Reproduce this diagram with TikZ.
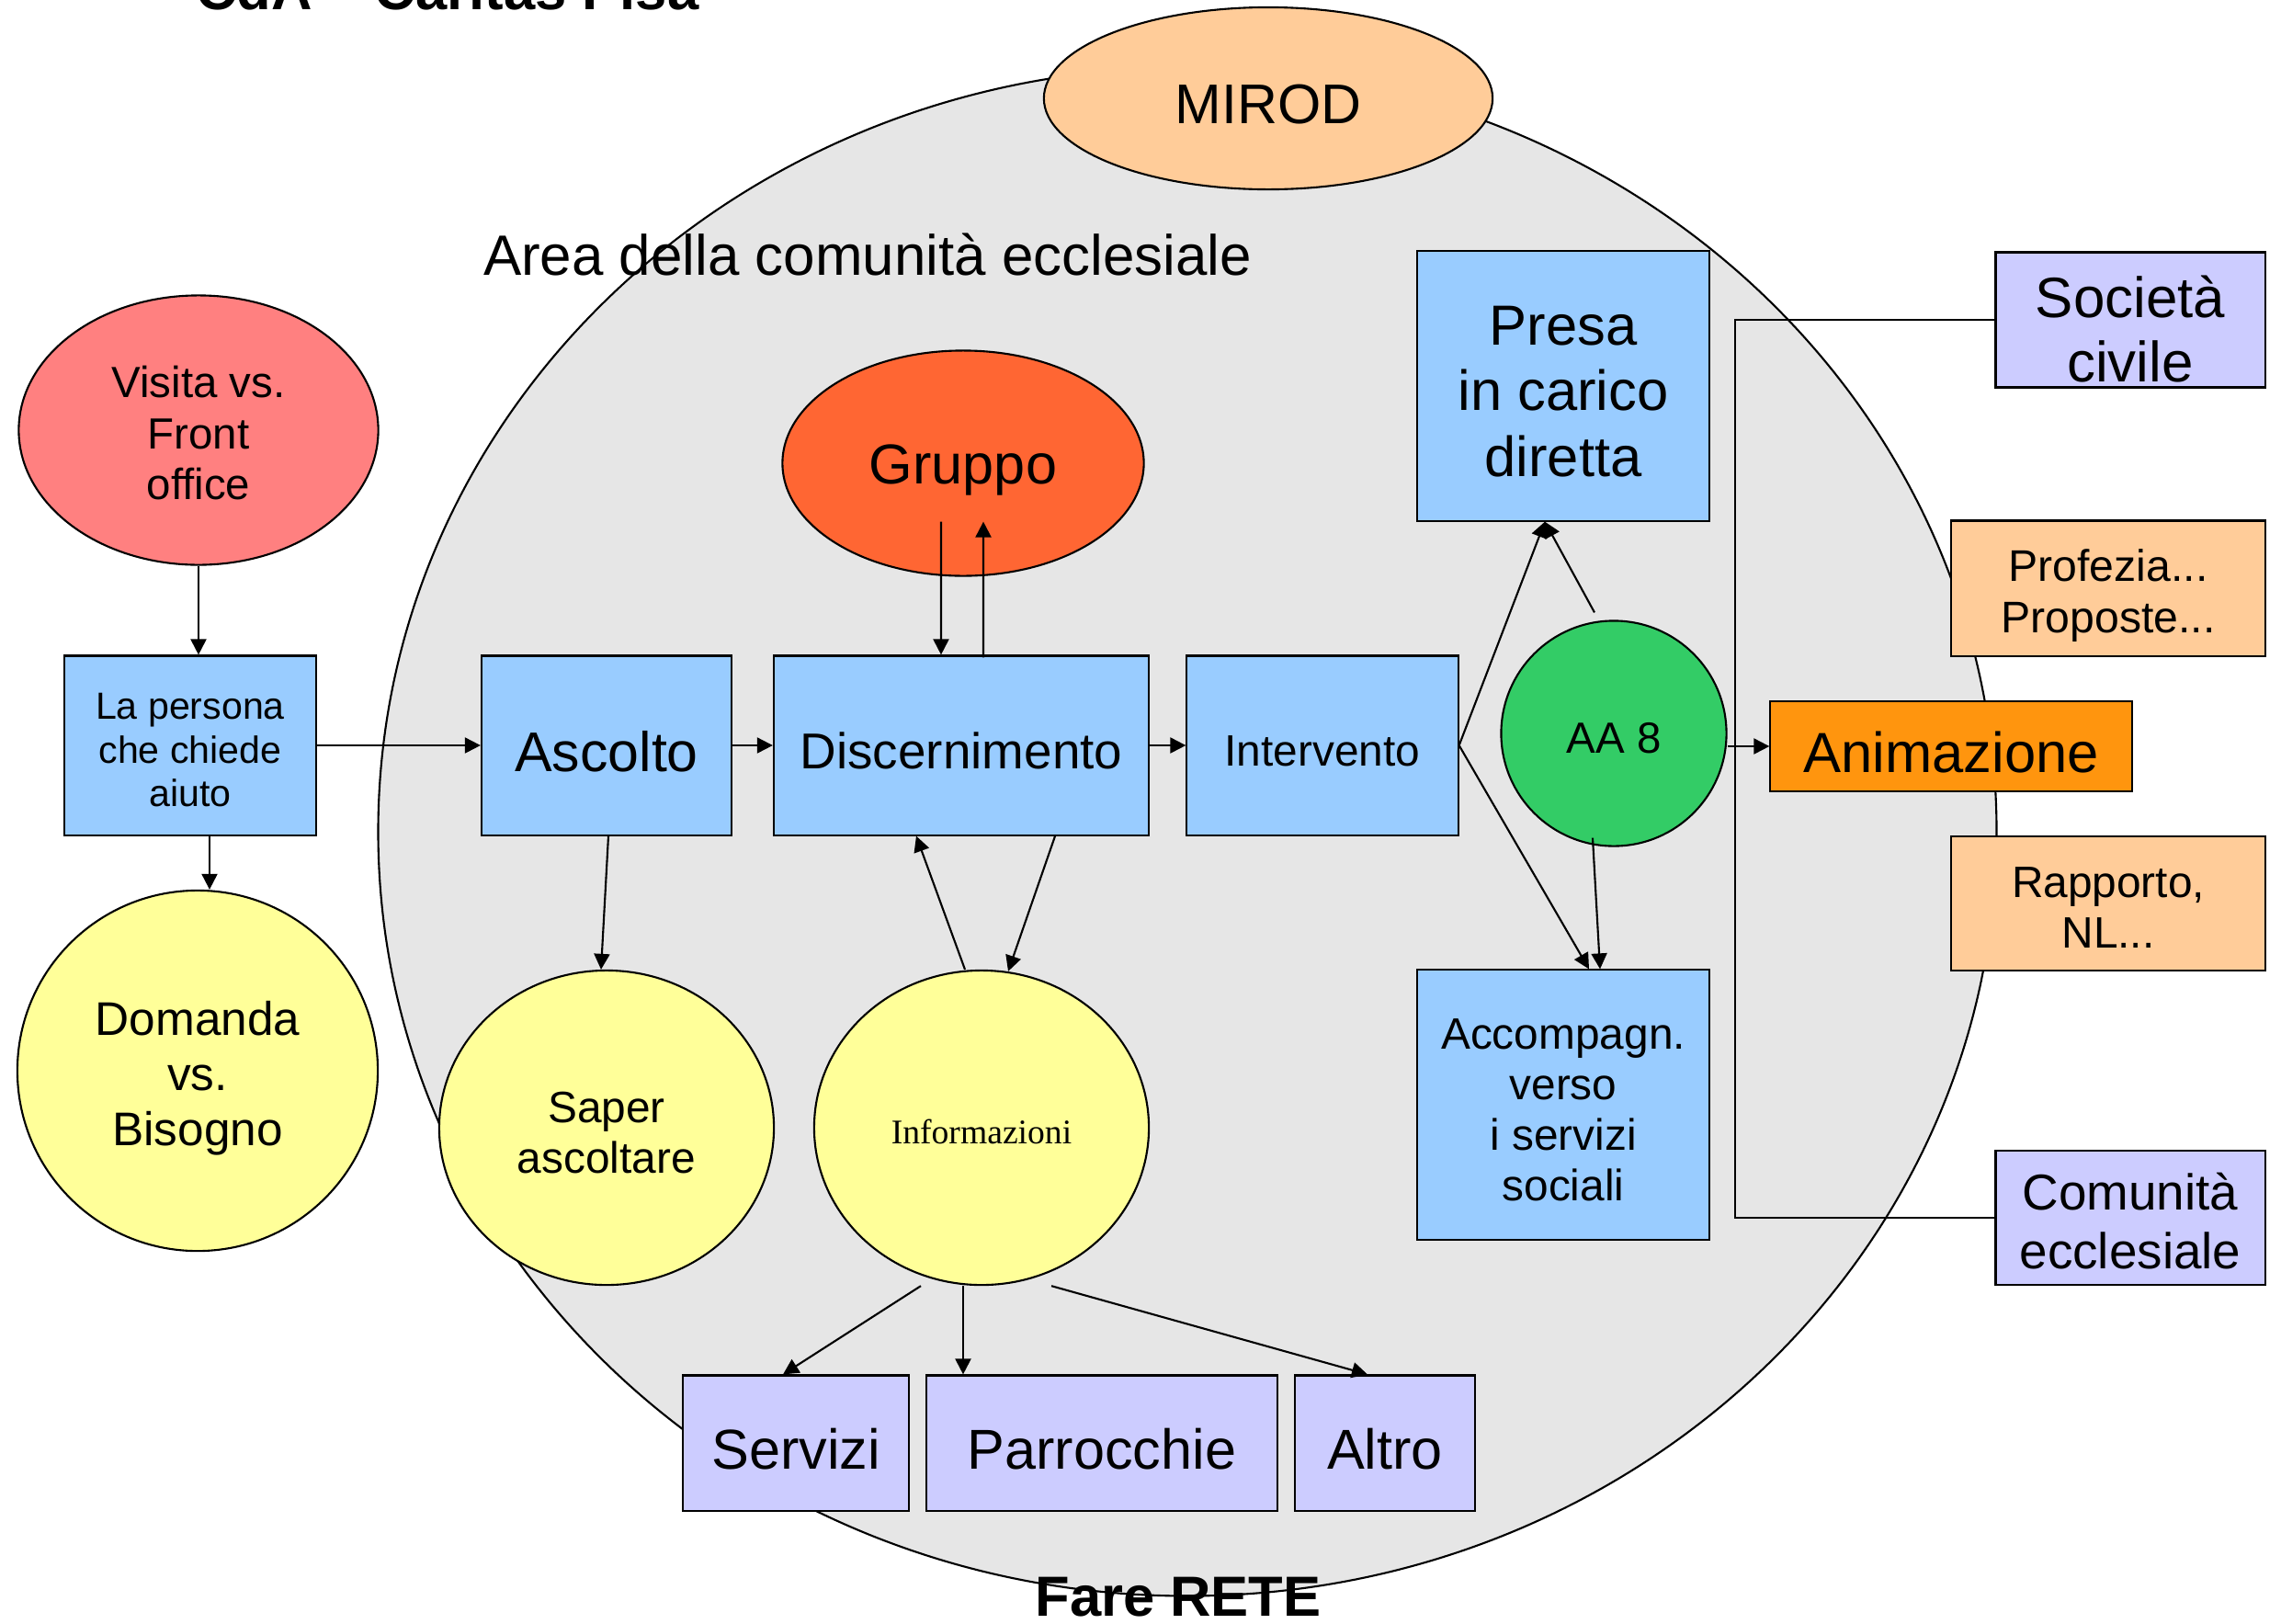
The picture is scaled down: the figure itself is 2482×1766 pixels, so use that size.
\documentclass[tikz,border=0pt]{standalone}
\usepackage{fontspec}
\setmainfont{Liberation Sans}
\newfontfamily\infofont{Liberation Serif}
\usepackage{tikz}
\usetikzlibrary{shapes.geometric,arrows.meta}
\newcommand{\fsz}[2]{\fontsize{#1}{#2}\selectfont}
\newcommand{\tpad}[1]{\rule{0pt}{#1em}}
\definecolor{areagrey}{HTML}{E6E6E6}
\definecolor{peach}{HTML}{FFCC99}
\definecolor{rosso}{HTML}{FF8080}
\definecolor{azzurro}{HTML}{99CCFF}
\definecolor{giallo}{HTML}{FFFF99}
\definecolor{arancio}{HTML}{FF6633}
\definecolor{verde}{HTML}{33CC66}
\definecolor{animcol}{HTML}{FF950E}
\definecolor{lilla}{HTML}{CCCCFF}

\begin{document}
\begin{tikzpicture}[x=0.01cm, y=-0.01cm, line width=0.6pt, >={Triangle[length=0.17cm,width=0.17cm]},
  box/.style = {draw, rectangle, fill=azzurro, inner sep=0pt, align=center, execute at begin node={\tpad{0.93}}},
  oval/.style = {draw, ellipse, inner sep=0pt, align=center, execute at begin node={\tpad{0.93}}},
  round/.style = {draw, circle, inner sep=0pt, align=center, execute at begin node={\tpad{0.93}}}]
\useasboundingbox (0,0) rectangle (2482,1766);
\node[draw, ellipse, fill=areagrey, minimum width=17.6cm, minimum height=16.62cm] (area) at (1292,905) {};
\node[anchor=west, inner sep=0pt, font=\fsz{17.6}{21}] (areatxt) at (525,277) {Area della comunità ecclesiale};
\node[anchor=base west, inner sep=0pt, font=\bfseries\fsz{17.5}{21}] (title) at (212,10) {CdA – Caritas Pisa};
\node[anchor=base, font=\bfseries\fsz{17.5}{21}] (rete) at (1282,1758) {Fare RETE};
\node[oval, fill=peach, minimum width=4.88cm, minimum height=1.98cm, font=\fsz{17.3}{21}] (mirod) at (1380,107) {MIROD};
\node[oval, fill=rosso, minimum width=3.91cm, minimum height=2.93cm, font=\fsz{13.5}{15.7}] (visita) at (216,468) {\tpad{0.86}Visita vs.\\Front\\office};
\node[box, minimum width=2.74cm, minimum height=1.95cm, font=\fsz{11.7}{13.5}] (persona) at (207,811) {\tpad{0.94}La persona\\che chiede\\aiuto};
\node[round, fill=giallo, minimum size=3.92cm, font=\fsz{14.6}{17.1}] (domanda) at (215,1165) {\tpad{1.03}Domanda\\vs.\\Bisogno};
\node[box, minimum width=2.72cm, minimum height=1.95cm, font=\fsz{17.3}{21}] (ascolto) at (660,811) {Ascolto};
\node[box, minimum width=4.08cm, minimum height=1.95cm, font=\fsz{15.6}{19}] (discern) at (1046,811) {Discernimento};
\node[box, minimum width=2.95cm, minimum height=1.95cm, font=\fsz{13.6}{16}] (interv) at (1439,811) {Intervento};
\node[oval, fill=arancio, minimum width=3.93cm, minimum height=2.45cm, font=\fsz{17.4}{21}] (gruppo) at (1048,504) {Gruppo};
\node[box, minimum width=3.18cm, minimum height=2.93cm, font=\fsz{17.5}{20.3}] (presa) at (1701,420) {\tpad{0.88}Presa\\in carico\\diretta};
\node[round, fill=verde, minimum size=2.45cm, font=\fsz{13.5}{16}] (aa) at (1756,798) {AA 8};
\node[box, fill=animcol, minimum width=3.93cm, minimum height=0.98cm, font=\fsz{17.5}{21}, execute at begin node={\tpad{0.83}}] (anim) at (2123,812) {Animazione};
\node[box, minimum width=3.18cm, minimum height=2.93cm, font=\fsz{13.6}{15.6}] (accomp) at (1701,1202) {\tpad{0.93}Accompagn.\\verso\\i servizi\\sociali};
\node[oval, fill=giallo, minimum width=3.64cm, minimum height=3.42cm, font=\fsz{13.6}{15.7}] (saper) at (660,1227) {\tpad{0.93}Saper\\ascoltare};
\node[oval, fill=giallo, minimum width=3.64cm, minimum height=3.42cm, font=\infofont\fsz{10.7}{13}] (info) at (1068,1227) {Informazioni};
\node[box, fill=lilla, minimum width=2.45cm, minimum height=1.47cm, font=\fsz{17.4}{21}] (servizi) at (866,1570) {Servizi};
\node[box, fill=lilla, minimum width=3.82cm, minimum height=1.47cm, font=\fsz{17.4}{21}] (parr) at (1199,1570) {Parrocchie};
\node[box, fill=lilla, minimum width=1.96cm, minimum height=1.47cm, font=\fsz{17.4}{21}] (altro) at (1507,1570) {Altro};
\node[box, fill=lilla, minimum width=2.93cm, minimum height=1.47cm, font=\fsz{17.6}{19.8}] (societa) at (2318,348) {\tpad{1.06}Società\\civile};
\node[box, fill=peach, minimum width=3.42cm, minimum height=1.47cm, font=\fsz{13.7}{15.7}] (profezia) at (2294,640) {\tpad{1.06}Profezia...\\Proposte...};
\node[box, fill=peach, minimum width=3.42cm, minimum height=1.46cm, font=\fsz{13.6}{15.7}] (rapporto) at (2294,983) {\tpad{0.88}Rapporto,\\NL...};
\node[box, fill=lilla, minimum width=2.93cm, minimum height=1.46cm, font=\fsz{15.6}{18}] (comunita) at (2318,1325) {\tpad{0.87}Comunità\\ecclesiale};
\coordinate (bend) at (1888,348);
\draw (societa.west) -- (bend) |- (comunita.west);
\draw[->] (visita.south) -- (visita.south |- persona.north);
\draw[->] ([xshift=0.21cm]persona.south) -- ([xshift=0.21cm]persona.south |- domanda.north);
\draw[->] (persona) -- (ascolto);
\draw[->] (ascolto) -- (discern);
\draw[->] (discern) -- (interv);
\draw[->] ([xshift=-0.24cm,yshift=0.6cm]gruppo.south) -- ([xshift=-0.22cm]discern.north);
\draw[->] ([xshift=0.24cm,yshift=-0.03cm]discern.north) -- ([xshift=0.22cm,yshift=0.6cm]gruppo.south);
\draw[->] ([xshift=0.02cm]ascolto.south) -- ([xshift=-0.06cm]saper.north);
\draw[->] ([xshift=1.02cm]discern.south) -- ([xshift=0.29cm,yshift=-0.02cm]info.north);
\draw[->] ([xshift=-0.18cm]info.north) -- ([xshift=-0.49cm]discern.south);
\draw[->] ([xshift=-0.66cm]info.south) -- ([xshift=-0.14cm]servizi.north);
\draw[->] ([xshift=-0.2cm]info.south) -- ([xshift=-0.2cm]info.south |- parr.north);
\draw[->] ([xshift=0.76cm]info.south) -- ([xshift=-0.19cm]altro.north);
\draw[->] (interv.east) -- ([xshift=-0.2cm]presa.south);
\draw[->] ([xshift=-0.21cm,yshift=0.08cm]aa.north) -- ([xshift=-0.2cm]presa.south);
\draw[->] (interv.east) -- ([xshift=0.28cm]accomp.north);
\draw[->] ([xshift=-0.23cm,yshift=0.1cm]aa.south) -- ([xshift=0.4cm]accomp.north);
\draw[->] (aa.east |- anim.west) -- (anim.west);
\end{tikzpicture}
\end{document}
